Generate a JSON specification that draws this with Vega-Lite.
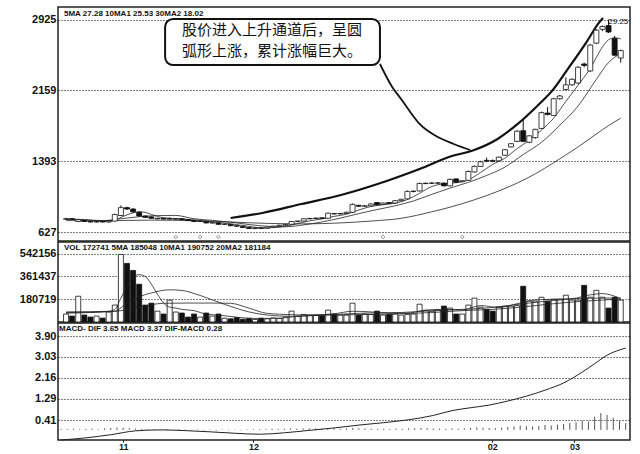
{
"$schema": "https://vega.github.io/schema/vega-lite/v6.json",
"padding": {"left": 18, "top": 6, "right": 5, "bottom": 0},
"background": "white",
"spacing": 1,
"bounds": "flush",
"config": {
  "view": {"stroke": "#222", "strokeWidth": 1.5},
  "axis": {"labelFont": "Liberation Sans", "labelFontWeight": "bold", "labelFontSize": 11, "labelColor": "#111", "gridColor": "#000", "gridDash": [1, 2], "gridWidth": 1, "domain": false, "ticks": false, "labelPadding": 2}
},
"datasets": {
  "k": [
    {"i":0,"o":7.70,"c":7.75,"h":7.85,"l":7.65,"v":63000},
    {"i":1,"o":7.75,"c":7.70,"h":7.80,"l":7.62,"v":47000},
    {"i":2,"o":7.45,"c":7.65,"h":7.75,"l":7.40,"v":204000},
    {"i":3,"o":7.55,"c":7.45,"h":7.60,"l":7.40,"v":55000},
    {"i":4,"o":7.45,"c":7.40,"h":7.50,"l":7.35,"v":39000},
    {"i":5,"o":7.40,"c":7.45,"h":7.50,"l":7.35,"v":47000},
    {"i":6,"o":7.45,"c":7.40,"h":7.50,"l":7.35,"v":31000},
    {"i":7,"o":7.40,"c":7.50,"h":7.55,"l":7.35,"v":79000},
    {"i":8,"o":7.50,"c":8.20,"h":8.30,"l":7.45,"v":134000},
    {"i":9,"o":8.10,"c":8.95,"h":9.20,"l":8.05,"v":535000},
    {"i":10,"o":8.95,"c":8.80,"h":9.05,"l":8.70,"v":464000},
    {"i":11,"o":8.80,"c":8.50,"h":8.90,"l":8.40,"v":408000},
    {"i":12,"o":8.45,"c":8.05,"h":8.55,"l":7.95,"v":299000},
    {"i":13,"o":8.05,"c":7.90,"h":8.10,"l":7.85,"v":134000},
    {"i":14,"o":7.95,"c":7.80,"h":8.00,"l":7.75,"v":149000},
    {"i":15,"o":7.75,"c":7.80,"h":7.85,"l":7.70,"v":86000},
    {"i":16,"o":7.80,"c":7.72,"h":7.85,"l":7.68,"v":63000},
    {"i":17,"o":7.70,"c":7.78,"h":7.90,"l":7.65,"v":173000},
    {"i":18,"o":7.70,"c":7.75,"h":7.80,"l":7.65,"v":79000},
    {"i":19,"o":7.75,"c":7.65,"h":7.78,"l":7.60,"v":71000},
    {"i":20,"o":7.65,"c":7.55,"h":7.68,"l":7.50,"v":39000},
    {"i":21,"o":7.55,"c":7.45,"h":7.60,"l":7.40,"v":63000},
    {"i":22,"o":7.45,"c":7.48,"h":7.52,"l":7.40,"v":39000},
    {"i":23,"o":7.45,"c":7.30,"h":7.50,"l":7.25,"v":71000},
    {"i":24,"o":7.30,"c":7.32,"h":7.38,"l":7.25,"v":47000},
    {"i":25,"o":7.30,"c":7.15,"h":7.35,"l":7.10,"v":63000},
    {"i":26,"o":7.15,"c":7.18,"h":7.22,"l":7.08,"v":30000},
    {"i":27,"o":7.15,"c":7.00,"h":7.18,"l":6.95,"v":25000},
    {"i":28,"o":7.00,"c":6.95,"h":7.05,"l":6.88,"v":35000},
    {"i":29,"o":6.92,"c":6.80,"h":6.95,"l":6.75,"v":22000},
    {"i":30,"o":6.80,"c":6.70,"h":6.85,"l":6.65,"v":28000},
    {"i":31,"o":6.70,"c":6.75,"h":6.80,"l":6.62,"v":20000},
    {"i":32,"o":6.75,"c":6.72,"h":6.82,"l":6.65,"v":30000},
    {"i":33,"o":6.72,"c":6.85,"h":6.90,"l":6.68,"v":25000},
    {"i":34,"o":6.85,"c":6.95,"h":7.00,"l":6.80,"v":32000},
    {"i":35,"o":6.95,"c":7.05,"h":7.10,"l":6.90,"v":28000},
    {"i":36,"o":7.05,"c":7.15,"h":7.20,"l":7.00,"v":40000},
    {"i":37,"o":7.15,"c":7.45,"h":7.50,"l":7.10,"v":86000},
    {"i":38,"o":7.45,"c":7.50,"h":7.55,"l":7.38,"v":45000},
    {"i":39,"o":7.50,"c":7.75,"h":7.80,"l":7.45,"v":60000},
    {"i":40,"o":7.75,"c":7.78,"h":7.85,"l":7.70,"v":55000},
    {"i":41,"o":7.78,"c":7.82,"h":7.88,"l":7.72,"v":55000},
    {"i":42,"o":7.85,"c":7.80,"h":7.90,"l":7.75,"v":50000},
    {"i":43,"o":7.80,"c":8.35,"h":8.40,"l":7.78,"v":94000},
    {"i":44,"o":8.30,"c":8.28,"h":8.38,"l":8.22,"v":63000},
    {"i":45,"o":8.28,"c":8.32,"h":8.38,"l":8.22,"v":55000},
    {"i":46,"o":8.32,"c":8.45,"h":8.50,"l":8.28,"v":55000},
    {"i":47,"o":8.45,"c":9.30,"h":9.40,"l":8.40,"v":149000},
    {"i":48,"o":9.20,"c":9.10,"h":9.25,"l":9.02,"v":55000},
    {"i":49,"o":9.10,"c":9.15,"h":9.20,"l":9.05,"v":63000},
    {"i":50,"o":9.15,"c":9.35,"h":9.40,"l":9.10,"v":60000},
    {"i":51,"o":9.50,"c":9.25,"h":9.55,"l":9.20,"v":86000},
    {"i":52,"o":9.30,"c":9.45,"h":9.50,"l":9.25,"v":55000},
    {"i":53,"o":9.50,"c":9.40,"h":9.55,"l":9.35,"v":60000},
    {"i":54,"o":9.45,"c":9.70,"h":9.75,"l":9.40,"v":63000},
    {"i":55,"o":9.70,"c":9.85,"h":9.90,"l":9.65,"v":55000},
    {"i":56,"o":9.90,"c":10.70,"h":10.80,"l":9.85,"v":60000},
    {"i":57,"o":10.70,"c":10.72,"h":10.80,"l":10.60,"v":63000},
    {"i":58,"o":10.75,"c":11.55,"h":11.65,"l":10.70,"v":141000},
    {"i":59,"o":11.55,"c":11.58,"h":11.65,"l":11.48,"v":90000},
    {"i":60,"o":11.58,"c":11.60,"h":11.68,"l":11.50,"v":85000},
    {"i":61,"o":11.60,"c":11.62,"h":11.70,"l":11.52,"v":95000},
    {"i":62,"o":11.60,"c":11.30,"h":11.65,"l":11.25,"v":126000},
    {"i":63,"o":11.30,"c":12.00,"h":12.10,"l":11.25,"v":110000},
    {"i":64,"o":12.05,"c":11.70,"h":12.10,"l":11.60,"v":63000},
    {"i":65,"o":11.75,"c":11.85,"h":11.90,"l":11.70,"v":63000},
    {"i":66,"o":11.90,"c":12.85,"h":12.95,"l":11.85,"v":134000},
    {"i":67,"o":12.80,"c":13.40,"h":13.50,"l":12.75,"v":189000},
    {"i":68,"o":13.40,"c":13.90,"h":14.00,"l":13.35,"v":118000},
    {"i":69,"o":14.05,"c":13.98,"h":14.35,"l":13.85,"v":100000},
    {"i":70,"o":14.02,"c":13.96,"h":14.15,"l":13.85,"v":86000},
    {"i":71,"o":14.00,"c":14.40,"h":14.45,"l":13.95,"v":120000},
    {"i":72,"o":14.60,"c":15.20,"h":15.25,"l":14.55,"v":125000},
    {"i":73,"o":15.50,"c":15.85,"h":15.90,"l":15.45,"v":125000},
    {"i":74,"o":16.10,"c":17.20,"h":17.30,"l":16.05,"v":130000},
    {"i":75,"o":17.25,"c":16.10,"h":18.40,"l":16.00,"v":283000},
    {"i":76,"o":16.00,"c":16.70,"h":16.75,"l":15.90,"v":165000},
    {"i":77,"o":16.50,"c":17.40,"h":17.45,"l":16.40,"v":165000},
    {"i":78,"o":17.50,"c":19.20,"h":19.30,"l":17.45,"v":196000},
    {"i":79,"o":19.15,"c":19.00,"h":19.80,"l":18.90,"v":165000},
    {"i":80,"o":18.90,"c":20.70,"h":20.80,"l":18.85,"v":180000},
    {"i":81,"o":20.70,"c":21.00,"h":21.10,"l":20.60,"v":180000},
    {"i":82,"o":21.70,"c":22.20,"h":23.00,"l":21.60,"v":212000},
    {"i":83,"o":22.20,"c":22.80,"h":22.90,"l":22.10,"v":173000},
    {"i":84,"o":22.40,"c":24.10,"h":24.20,"l":22.30,"v":173000},
    {"i":85,"o":24.45,"c":24.30,"h":24.60,"l":24.10,"v":290000},
    {"i":86,"o":23.70,"c":26.50,"h":26.60,"l":23.60,"v":196000},
    {"i":87,"o":26.70,"c":28.10,"h":28.20,"l":26.60,"v":251000},
    {"i":88,"o":28.20,"c":28.50,"h":28.60,"l":28.00,"v":196000},
    {"i":89,"o":28.60,"c":27.90,"h":29.25,"l":27.80,"v":110000},
    {"i":90,"o":27.20,"c":25.40,"h":27.50,"l":25.30,"v":196000},
    {"i":91,"o":25.10,"c":25.90,"h":26.00,"l":24.60,"v":173000}
  ],
  "pma": [
    {"s":"5MA","i":0,"v":7.72},{"s":"5MA","i":2,"v":7.68},{"s":"5MA","i":4,"v":7.59},{"s":"5MA","i":6,"v":7.47},{"s":"5MA","i":8,"v":7.59},{"s":"5MA","i":9,"v":7.90},{"s":"5MA","i":10,"v":8.17},{"s":"5MA","i":11,"v":8.39},{"s":"5MA","i":12,"v":8.50},{"s":"5MA","i":13,"v":8.44},{"s":"5MA","i":14,"v":8.21},{"s":"5MA","i":15,"v":8.01},{"s":"5MA","i":16,"v":7.85},{"s":"5MA","i":18,"v":7.77},{"s":"5MA","i":20,"v":7.69},{"s":"5MA","i":22,"v":7.58},{"s":"5MA","i":24,"v":7.42},{"s":"5MA","i":26,"v":7.29},{"s":"5MA","i":28,"v":7.12},{"s":"5MA","i":30,"v":6.93},{"s":"5MA","i":32,"v":6.78},{"s":"5MA","i":34,"v":6.79},{"s":"5MA","i":36,"v":6.94},{"s":"5MA","i":38,"v":7.22},{"s":"5MA","i":40,"v":7.53},{"s":"5MA","i":42,"v":7.73},{"s":"5MA","i":44,"v":8.01},{"s":"5MA","i":46,"v":8.24},{"s":"5MA","i":48,"v":8.69},{"s":"5MA","i":50,"v":9.07},{"s":"5MA","i":52,"v":9.26},{"s":"5MA","i":54,"v":9.43},{"s":"5MA","i":56,"v":9.82},{"s":"5MA","i":58,"v":10.50},{"s":"5MA","i":60,"v":11.23},{"s":"5MA","i":62,"v":11.53},{"s":"5MA","i":64,"v":11.64},{"s":"5MA","i":66,"v":11.94},{"s":"5MA","i":68,"v":12.74},{"s":"5MA","i":70,"v":13.62},{"s":"5MA","i":72,"v":14.29},{"s":"5MA","i":74,"v":15.32},{"s":"5MA","i":76,"v":16.21},{"s":"5MA","i":78,"v":17.32},{"s":"5MA","i":80,"v":18.6},{"s":"5MA","i":82,"v":20.42},{"s":"5MA","i":84,"v":22.16},{"s":"5MA","i":86,"v":23.98},{"s":"5MA","i":87,"v":25.16},{"s":"5MA","i":88,"v":26.3},{"s":"5MA","i":89,"v":27.06},{"s":"5MA","i":90,"v":27.28},{"s":"5MA","i":91,"v":27.16},
    {"s":"10MA","i":0,"v":7.70},{"s":"10MA","i":3,"v":7.65},{"s":"10MA","i":6,"v":7.55},{"s":"10MA","i":9,"v":7.75},{"s":"10MA","i":12,"v":7.97},{"s":"10MA","i":15,"v":8.09},{"s":"10MA","i":18,"v":8.11},{"s":"10MA","i":21,"v":7.75},{"s":"10MA","i":24,"v":7.58},{"s":"10MA","i":27,"v":7.38},{"s":"10MA","i":30,"v":7.13},{"s":"10MA","i":33,"v":6.94},{"s":"10MA","i":36,"v":6.89},{"s":"10MA","i":39,"v":7.09},{"s":"10MA","i":42,"v":7.41},{"s":"10MA","i":45,"v":7.82},{"s":"10MA","i":48,"v":8.30},{"s":"10MA","i":51,"v":8.74},{"s":"10MA","i":54,"v":9.15},{"s":"10MA","i":57,"v":9.67},{"s":"10MA","i":60,"v":10.38},{"s":"10MA","i":63,"v":11.06},{"s":"10MA","i":66,"v":11.68},{"s":"10MA","i":69,"v":12.42},{"s":"10MA","i":72,"v":13.32},{"s":"10MA","i":75,"v":14.68},{"s":"10MA","i":78,"v":16.0},{"s":"10MA","i":81,"v":17.84},{"s":"10MA","i":84,"v":19.92},{"s":"10MA","i":87,"v":22.79},{"s":"10MA","i":89,"v":24.61},{"s":"10MA","i":91,"v":25.57},
    {"s":"30MA","i":0,"v":7.55},{"s":"30MA","i":7,"v":7.55},{"s":"30MA","i":14,"v":7.6},{"s":"30MA","i":21,"v":7.55},{"s":"30MA","i":27,"v":7.4},{"s":"30MA","i":33,"v":7.25},{"s":"30MA","i":39,"v":7.2},{"s":"30MA","i":45,"v":7.3},{"s":"30MA","i":50,"v":7.5},{"s":"30MA","i":55,"v":7.8},{"s":"30MA","i":60,"v":8.5},{"s":"30MA","i":63,"v":9.0},{"s":"30MA","i":67,"v":9.8},{"s":"30MA","i":71,"v":10.75},{"s":"30MA","i":74,"v":11.6},{"s":"30MA","i":77,"v":12.6},{"s":"30MA","i":80,"v":13.8},{"s":"30MA","i":84,"v":15.5},{"s":"30MA","i":87,"v":16.9},{"s":"30MA","i":89,"v":17.8},{"s":"30MA","i":91,"v":18.6}
  ],
  "chan": [
    {"t":27.0,"p":7.83},{"t":32.2,"p":8.37},{"t":38.6,"p":9.34},{"t":45.1,"p":10.32},{"t":52.6,"p":11.83},{"t":58.0,"p":13.12},{"t":63.3,"p":14.52},{"t":66.5,"p":15.06},{"t":70.8,"p":16.36},{"t":74.1,"p":17.98},{"t":77.3,"p":19.92},{"t":79.8,"p":21.6},{"t":82.1,"p":23.70},{"t":85.3,"p":26.72},{"t":87.4,"p":28.88},{"t":88.1,"p":29.42}
  ],
  "ptr": [
    {"t":51.5,"p":24.45},{"t":53.4,"p":22.08},{"t":55.2,"p":20.46},{"t":56.7,"p":19.06},{"t":58.0,"p":17.98},{"t":60.7,"p":16.68},{"t":63.6,"p":15.82},{"t":66.3,"p":15.17}
  ],
  "ev": [{"i":18},{"i":22},{"i":25},{"i":52},{"i":65}],
  "vma": [
    {"s":"5","i":0,"v":70000},{"s":"5","i":4,"v":75000},{"s":"5","i":7,"v":85000},{"s":"5","i":8,"v":100000},{"s":"5","i":9,"v":190000},{"s":"5","i":10,"v":280000},{"s":"5","i":11,"v":355000},{"s":"5","i":12,"v":375000},{"s":"5","i":13,"v":360000},{"s":"5","i":14,"v":300000},{"s":"5","i":15,"v":220000},{"s":"5","i":16,"v":150000},{"s":"5","i":17,"v":118000},{"s":"5","i":18,"v":110000},{"s":"5","i":19,"v":100000},{"s":"5","i":21,"v":90000},{"s":"5","i":23,"v":62000},{"s":"5","i":25,"v":55000},{"s":"5","i":28,"v":38000},{"s":"5","i":31,"v":28000},{"s":"5","i":35,"v":30000},{"s":"5","i":38,"v":45000},{"s":"5","i":41,"v":55000},{"s":"5","i":44,"v":65000},{"s":"5","i":47,"v":85000},{"s":"5","i":50,"v":80000},{"s":"5","i":53,"v":70000},{"s":"5","i":56,"v":70000},{"s":"5","i":59,"v":95000},{"s":"5","i":62,"v":100000},{"s":"5","i":65,"v":95000},{"s":"5","i":68,"v":130000},{"s":"5","i":71,"v":115000},{"s":"5","i":74,"v":145000},{"s":"5","i":77,"v":175000},{"s":"5","i":80,"v":180000},{"s":"5","i":83,"v":185000},{"s":"5","i":86,"v":215000},{"s":"5","i":88,"v":225000},{"s":"5","i":91,"v":185000},
    {"s":"10","i":0,"v":75000},{"s":"10","i":6,"v":80000},{"s":"10","i":8,"v":85000},{"s":"10","i":10,"v":150000},{"s":"10","i":12,"v":200000},{"s":"10","i":14,"v":230000},{"s":"10","i":17,"v":255000},{"s":"10","i":19,"v":250000},{"s":"10","i":22,"v":210000},{"s":"10","i":26,"v":140000},{"s":"10","i":30,"v":80000},{"s":"10","i":33,"v":55000},{"s":"10","i":37,"v":45000},{"s":"10","i":41,"v":52000},{"s":"10","i":45,"v":62000},{"s":"10","i":50,"v":72000},{"s":"10","i":55,"v":75000},{"s":"10","i":60,"v":90000},{"s":"10","i":65,"v":100000},{"s":"10","i":70,"v":115000},{"s":"10","i":75,"v":145000},{"s":"10","i":80,"v":170000},{"s":"10","i":85,"v":188000},{"s":"10","i":91,"v":190000},
    {"s":"20","i":0,"v":80000},{"s":"20","i":8,"v":85000},{"s":"20","i":12,"v":120000},{"s":"20","i":16,"v":148000},{"s":"20","i":20,"v":150000},{"s":"20","i":24,"v":150000},{"s":"20","i":27,"v":148000},{"s":"20","i":30,"v":110000},{"s":"20","i":33,"v":68000},{"s":"20","i":37,"v":58000},{"s":"20","i":40,"v":55000},{"s":"20","i":45,"v":56000},{"s":"20","i":50,"v":60000},{"s":"20","i":55,"v":66000},{"s":"20","i":60,"v":75000},{"s":"20","i":65,"v":90000},{"s":"20","i":70,"v":100000},{"s":"20","i":75,"v":120000},{"s":"20","i":80,"v":145000},{"s":"20","i":85,"v":165000},{"s":"20","i":91,"v":181000}
  ],
  "macd": [
    {"i":0,"d":-0.42},{"i":4,"d":-0.33},{"i":8,"d":-0.2},{"i":12,"d":-0.04},{"i":16,"d":0.0},{"i":20,"d":-0.03},{"i":24,"d":-0.08},{"i":28,"d":-0.14},{"i":32,"d":-0.18},{"i":36,"d":-0.12},{"i":40,"d":-0.02},{"i":44,"d":0.08},{"i":48,"d":0.2},{"i":52,"d":0.3},{"i":56,"d":0.42},{"i":60,"d":0.6},{"i":63,"d":0.8},{"i":66,"d":0.92},{"i":69,"d":1.03},{"i":72,"d":1.2},{"i":75,"d":1.4},{"i":78,"d":1.65},{"i":81,"d":1.95},{"i":84,"d":2.4},{"i":86,"d":2.75},{"i":88,"d":3.1},{"i":90,"d":3.32},{"i":91,"d":3.4}
  ],
  "hist": [
    {"i":0,"h":0.04},{"i":1,"h":0.03},{"i":2,"h":0.05},{"i":3,"h":0.03},{"i":4,"h":0.04},{"i":5,"h":0.05},{"i":6,"h":0.03},{"i":7,"h":0.06},
    {"i":8,"h":0.08},{"i":9,"h":0.1},{"i":10,"h":0.09},{"i":11,"h":0.07},{"i":12,"h":0.05},{"i":13,"h":0.04},{"i":14,"h":0.03},{"i":15,"h":0.03},
    {"i":16,"h":0.02},{"i":17,"h":0.03},{"i":18,"h":0.02},{"i":19,"h":0.03},{"i":20,"h":0.02},{"i":21,"h":-0.02},{"i":22,"h":0.02},{"i":23,"h":-0.02},{"i":24,"h":0.02},{"i":25,"h":-0.03},{"i":26,"h":0.02},{"i":27,"h":-0.02},{"i":28,"h":0.02},{"i":29,"h":-0.02},{"i":30,"h":0.02},
    {"i":31,"h":0.03},{"i":32,"h":0.03},{"i":33,"h":0.04},{"i":34,"h":0.05},{"i":35,"h":0.04},{"i":36,"h":0.05},{"i":37,"h":0.06},{"i":38,"h":0.05},{"i":39,"h":0.06},{"i":40,"h":0.07},{"i":41,"h":0.06},{"i":42,"h":0.05},{"i":43,"h":0.07},{"i":44,"h":0.06},{"i":45,"h":0.05},
    {"i":46,"h":0.06},{"i":47,"h":0.08},{"i":48,"h":0.07},{"i":49,"h":0.06},{"i":50,"h":0.05},{"i":51,"h":0.04},{"i":52,"h":0.05},{"i":53,"h":0.04},{"i":54,"h":0.05},{"i":55,"h":0.04},{"i":56,"h":0.06},{"i":57,"h":0.07},{"i":58,"h":0.08},{"i":59,"h":0.07},{"i":60,"h":0.06},
    {"i":61,"h":0.05},{"i":62,"h":0.04},{"i":63,"h":0.06},{"i":64,"h":0.05},{"i":65,"h":0.06},{"i":66,"h":0.08},{"i":67,"h":0.1},{"i":68,"h":0.09},{"i":69,"h":0.08},{"i":70,"h":0.07},{"i":71,"h":0.09},{"i":72,"h":0.12},{"i":73,"h":0.14},{"i":74,"h":0.18},{"i":75,"h":0.15},
    {"i":76,"h":0.14},{"i":77,"h":0.16},{"i":78,"h":0.2},{"i":79,"h":0.18},{"i":80,"h":0.22},{"i":81,"h":0.25},{"i":82,"h":0.3},{"i":83,"h":0.32},{"i":84,"h":0.38},{"i":85,"h":0.35},{"i":86,"h":0.55},{"i":87,"h":0.7},{"i":88,"h":0.62},{"i":89,"h":0.5},{"i":90,"h":0.38},{"i":91,"h":0.28}
  ]
},
"vconcat": [
  {
    "width": 572, "height": 234,
    "encoding": {
      "x": {"type": "quantitative", "scale": {"domain": [-0.5, 91.7], "nice": false, "zero": false}, "axis": null},
      "y": {"type": "quantitative", "scale": {"domain": [5.35, 30.6], "nice": false, "zero": false},
            "axis": {"values": [6.27, 13.93, 21.59, 29.25], "labelExpr": "replace(format(datum.value, '.2f'), '.', '')", "grid": true, "title": null}}
    },
    "layer": [
      {"data": {"name": "pma"}, "mark": {"type": "line", "interpolate": "monotone", "strokeWidth": 0.8, "color": "#222"},
       "encoding": {"x": {"field": "i"}, "y": {"field": "v"}, "detail": {"field": "s"}}},
      {"data": {"name": "chan"}, "mark": {"type": "line", "interpolate": "monotone", "strokeWidth": 2.2, "color": "#111"},
       "encoding": {"x": {"field": "t"}, "y": {"field": "p"}}},
      {"data": {"name": "ptr"}, "mark": {"type": "line", "interpolate": "monotone", "strokeWidth": 1.8, "color": "#111"},
       "encoding": {"x": {"field": "t"}, "y": {"field": "p"}}},
      {"data": {"name": "k"}, "mark": {"type": "rule", "strokeWidth": 1, "color": "#111"},
       "encoding": {"x": {"field": "i"}, "y": {"field": "l"}, "y2": {"field": "h"}}},
      {"data": {"name": "k"}, "mark": {"type": "bar", "orient": "vertical", "size": 5, "stroke": "#111", "strokeWidth": 0.8},
       "encoding": {"x": {"field": "i"}, "y": {"field": "o"}, "y2": {"field": "c"},
         "fill": {"condition": {"test": "datum.c >= datum.o", "value": "white"}, "value": "#111"}}},
      {"data": {"values": [{}]}, "mark": {"type": "rect", "fill": "white", "stroke": "#111", "strokeWidth": 2, "cornerRadius": 8},
       "encoding": {"x": {"datum": 16.25}, "x2": {"datum": 51.5}, "y": {"datum": 29.31}, "y2": {"datum": 24.34}}},
      {"data": {"values": [{}]}, "mark": {"type": "text", "font": "Noto Sans CJK SC", "fontSize": 15, "color": "#111", "align": "center", "baseline": "middle", "text": "股价进入上升通道后，呈圆"},
       "encoding": {"x": {"datum": 33.8}, "y": {"datum": 28.15}}},
      {"data": {"values": [{}]}, "mark": {"type": "text", "font": "Noto Sans CJK SC", "fontSize": 15, "color": "#111", "align": "center", "baseline": "middle", "text": "弧形上涨，累计涨幅巨大。"},
       "encoding": {"x": {"datum": 33.8}, "y": {"datum": 25.8}}},
      {"data": {"name": "ev"}, "mark": {"type": "point", "shape": "diamond", "size": 14, "filled": false, "stroke": "#666", "strokeWidth": 1},
       "encoding": {"x": {"field": "i"}, "y": {"datum": 5.78}}},
      {"data": {"values": [{}]}, "mark": {"type": "text", "font": "Liberation Sans", "fontSize": 8, "color": "#111", "align": "center", "baseline": "middle", "text": "29.25"},
       "encoding": {"x": {"datum": 90.6}, "y": {"datum": 29.0}}},
      {"data": {"values": [{}]}, "mark": {"type": "text", "font": "Liberation Sans", "fontSize": 8, "fontWeight": "bold", "color": "#111", "align": "left", "baseline": "top", "dy": 3, "dx": 1, "text": "5MA 27.28  10MA1 25.53  30MA2 18.02"},
       "encoding": {"x": {"datum": -0.5}, "y": {"datum": 30.6}}}
    ]
  },
  {
    "width": 572, "height": 80,
    "encoding": {
      "x": {"type": "quantitative", "scale": {"domain": [-0.5, 91.7], "nice": false, "zero": false}, "axis": null},
      "y": {"type": "quantitative", "scale": {"domain": [0, 633500], "nice": false},
            "axis": {"values": [180719, 361437, 542156], "format": "d", "grid": true, "title": null}}
    },
    "layer": [
      {"data": {"name": "k"}, "mark": {"type": "bar", "orient": "vertical", "size": 5, "stroke": "#111", "strokeWidth": 0.8},
       "encoding": {"x": {"field": "i"}, "y": {"field": "v"}, "fill": {"condition": {"test": "datum.c >= datum.o", "value": "white"}, "value": "#111"}}},
      {"data": {"name": "vma"}, "mark": {"type": "line", "interpolate": "monotone", "strokeWidth": 0.8, "color": "#222"},
       "encoding": {"x": {"field": "i"}, "y": {"field": "v"}, "detail": {"field": "s"}}},
      {"data": {"values": [{}]}, "mark": {"type": "text", "font": "Liberation Sans", "fontSize": 8, "fontWeight": "bold", "color": "#111", "align": "left", "baseline": "top", "dy": 2, "dx": 1, "text": "VOL 172741  5MA 185048  10MA1 190752  20MA2 181184"},
       "encoding": {"x": {"datum": -0.5}, "y": {"datum": 633500}}}
    ]
  },
  {
    "width": 572, "height": 117,
    "encoding": {
      "x": {"type": "quantitative", "scale": {"domain": [-0.5, 91.7], "nice": false, "zero": false},
            "axis": {"values": [10, 31, 69.5, 82.75], "labelExpr": "datum.value < 20 ? '11' : datum.value < 50 ? '12' : datum.value < 75 ? '02' : '03'", "grid": false, "ticks": true, "tickSize": 2, "tickColor": "#000", "labelFontSize": 9, "labelPadding": 0, "title": null}},
      "y": {"type": "quantitative", "scale": {"domain": [-0.42, 4.44], "nice": false, "zero": false},
            "axis": {"values": [0.41, 1.29, 2.16, 3.03, 3.9], "format": ".2f", "grid": true, "title": null}}
    },
    "layer": [
      {"data": {"name": "hist"}, "mark": {"type": "rule", "strokeWidth": 1, "color": "#555"},
       "encoding": {"x": {"field": "i"}, "y": {"field": "h"}, "y2": {"datum": 0}}},
      {"data": {"name": "macd"}, "mark": {"type": "line", "interpolate": "monotone", "strokeWidth": 1, "color": "#222"},
       "encoding": {"x": {"field": "i"}, "y": {"field": "d"}}},
      {"data": {"values": [{}]}, "mark": {"type": "text", "font": "Liberation Sans", "fontSize": 8, "fontWeight": "bold", "color": "#111", "align": "left", "baseline": "top", "dy": 2, "dx": 1, "text": "MACD- DIF 3.65  MACD 3.37  DIF-MACD 0.28"},
       "encoding": {"x": {"datum": -0.5}, "y": {"datum": 4.44}}}
    ]
  }
]
}
